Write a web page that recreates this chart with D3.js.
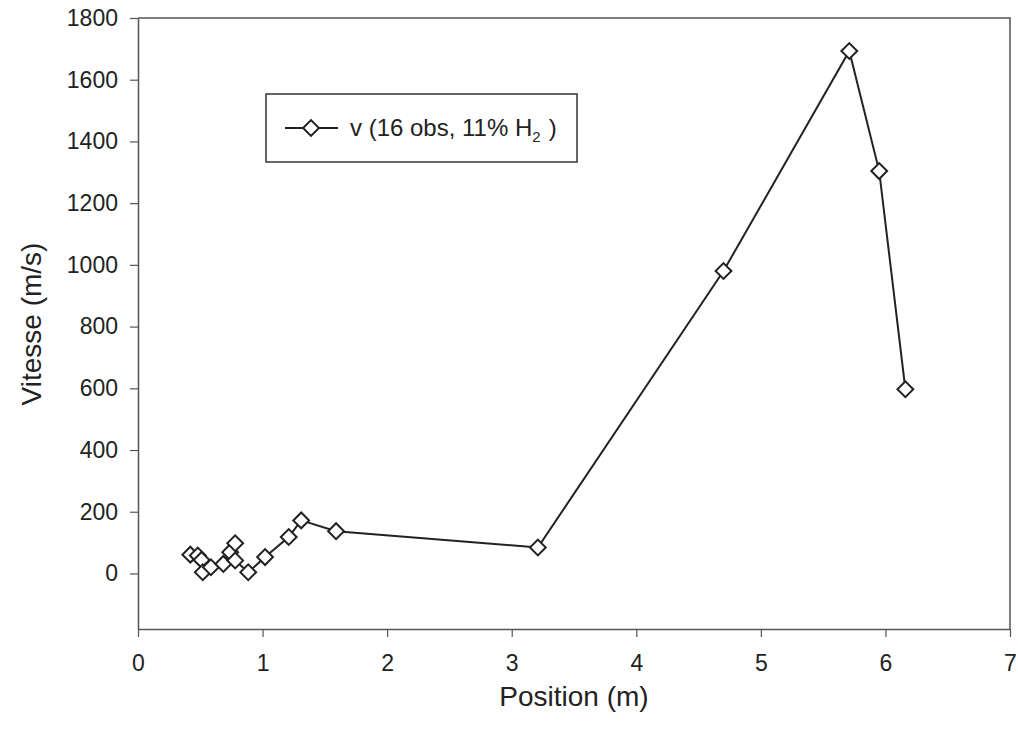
<!DOCTYPE html>
<html>
<head>
<meta charset="utf-8">
<script src="https://cdn.jsdelivr.net/npm/d3@7"></script>
<style>
  body { margin: 0; background: #fff; }
  text { font-family: Arial, "Liberation Sans", sans-serif; fill: #222; }
</style>
</head>
<body>
<svg id="chart" width="1018" height="732"></svg>
<script>
// Data (position in m, speed in m/s)
const positions = [0.42, 0.48, 0.51, 0.52, 0.585, 0.685, 0.74, 0.78, 0.78, 0.885, 1.02, 1.21, 1.31, 1.59, 3.21, 4.70, 5.71, 5.95, 6.16];
const speeds    = [61, 58, 44, 4, 20, 31, 69, 98, 42, 4, 53, 118, 172, 137, 84, 980, 1693, 1304, 597];
const xTicks = [0, 1, 2, 3, 4, 5, 6, 7];
const yTicks = [0, 200, 400, 600, 800, 1000, 1200, 1400, 1600, 1800];
const legendLabel = "v (16 obs, 11% H";

const svg = d3.select("#chart");
const plotLeft = 138, plotRight = 1010, plotTop = 18, plotBottom = 629;

const x = d3.scaleLinear().domain([0, 7]).range([plotLeft, plotRight]);
const y = d3.scaleLinear().domain([-180, 1800]).range([plotBottom, plotTop]);

const axisColor = "#555";

// Frame (top and right)
svg.append("path")
    .attr("d", `M${plotLeft},${plotTop}H${plotRight}V${plotBottom}`)
    .attr("fill", "none")
    .attr("stroke", axisColor)
    .attr("stroke-width", 1.5);

// X axis
const xAxis = svg.append("g")
    .attr("transform", `translate(0,${plotBottom})`)
    .call(d3.axisBottom(x).tickValues(xTicks).tickFormat(d3.format("d"))
        .tickSize(8).tickPadding(18).tickSizeOuter(0));
xAxis.select(".domain").attr("stroke", axisColor).attr("stroke-width", 1.5);
xAxis.selectAll(".tick line").attr("stroke", axisColor).attr("stroke-width", 1.2);
xAxis.selectAll("text").style("font-size", "23px").attr("fill", "#222");

// Y axis
const yAxis = svg.append("g")
    .attr("transform", `translate(${plotLeft},0)`)
    .call(d3.axisLeft(y).tickValues(yTicks).tickFormat(d3.format("d"))
        .tickSize(8).tickPadding(12).tickSizeOuter(0));
yAxis.select(".domain").attr("stroke", axisColor).attr("stroke-width", 1.5);
yAxis.selectAll(".tick line").attr("stroke", axisColor).attr("stroke-width", 1.2);
yAxis.selectAll("text").style("font-size", "23px").attr("fill", "#222");

// Axis titles
svg.append("text")
    .attr("x", 574)
    .attr("y", 706)
    .attr("text-anchor", "middle")
    .style("font-size", "28px")
    .text("Position (m)");

svg.append("text")
    .attr("transform", `translate(41,324) rotate(-90)`)
    .attr("text-anchor", "middle")
    .style("font-size", "28px")
    .text("Vitesse (m/s)");

// Line
const pts = positions.map((p, i) => [p, speeds[i]]);
svg.append("path")
    .datum(pts)
    .attr("fill", "none")
    .attr("stroke", "#222")
    .attr("stroke-width", 2)
    .attr("d", d3.line().x(d => x(d[0])).y(d => y(d[1])));

// Diamond markers
const diamond = d3.symbol().type(d3.symbolSquare).size(125);
svg.append("g")
    .selectAll("path")
    .data(pts)
    .join("path")
    .attr("d", diamond)
    .attr("transform", d => `translate(${x(d[0])},${y(d[1])}) rotate(45)`)
    .attr("fill", "#fff")
    .attr("stroke", "#222")
    .attr("stroke-width", 2);

// Legend
const lg = svg.append("g");
lg.append("rect")
    .attr("x", 266).attr("y", 94)
    .attr("width", 311).attr("height", 68)
    .attr("fill", "#fff")
    .attr("stroke", "#333")
    .attr("stroke-width", 1.5);
lg.append("line")
    .attr("x1", 285).attr("x2", 338)
    .attr("y1", 128).attr("y2", 128)
    .attr("stroke", "#222").attr("stroke-width", 2);
lg.append("path")
    .attr("d", diamond)
    .attr("transform", "translate(311,128) rotate(45)")
    .attr("fill", "#fff").attr("stroke", "#222").attr("stroke-width", 2);
const lt = lg.append("text")
    .attr("x", 350).attr("y", 136)
    .style("font-size", "24px");
lt.append("tspan").text(legendLabel);
lt.append("tspan").attr("dy", 6).style("font-size", "15px").text("2");
lt.append("tspan").attr("dy", -6).attr("dx", 8).text(")");
</script>
</body>
</html>
